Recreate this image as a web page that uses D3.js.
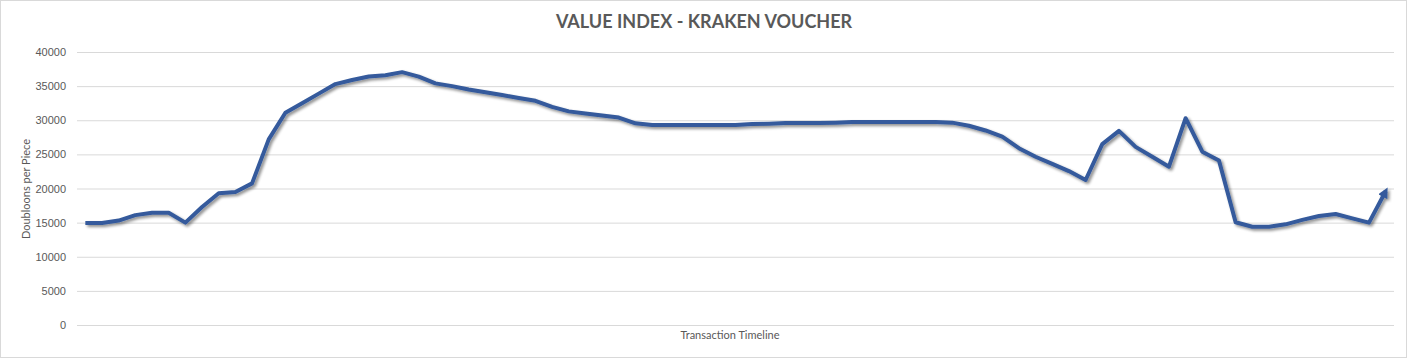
<!DOCTYPE html>
<html><head><meta charset="utf-8">
<script src="https://cdn.jsdelivr.net/npm/d3@7"></script>
<style>
html,body{margin:0;padding:0;background:#fff;}
svg{display:block;font-family:Lato,"Open Sans",sans-serif;}
</style></head>
<body><svg id="c" width="1408" height="359"></svg>
<script>
const title = "VALUE INDEX - KRAKEN VOUCHER";
const yTitle = "Doubloons per Piece";
const xTitle = "Transaction Timeline";
const yTicks = [0,5000,10000,15000,20000,25000,30000,35000,40000];
const values = [
 14950,14950,15300,16100,16450,16450,15000,17300,19300,19500,
 20750,27200,31100,32500,33900,35300,35900,36400,36600,37050,
 36400,35400,35000,34500,34100,33700,33250,32850,31950,31300,
 31000,30700,30400,29550,29300,29300,29300,29300,29300,29300,
 29450,29500,29600,29600,29600,29650,29750,29750,29750,29750,
 29750,29750,29650,29200,28500,27600,25900,24650,23600,22550,
 21250,26500,28450,26100,24650,23200,30300,25400,24100,15050,
 14400,14400,14750,15400,15970,16260,15630,15000,19600
];
const categories = values.map((d,i)=>i+1);

const svg = d3.select("#c");
const W=1408,H=359;
const m={left:77,right:14,top:52,bottom:34};
svg.append("rect").attr("x",0.5).attr("y",0.5).attr("width",W-2).attr("height",H-2)
  .attr("fill","#fff").attr("stroke","#d9d9d9");

const x = d3.scaleBand().domain(categories).range([m.left,W-m.right]);
const y = d3.scaleLinear().domain([0,40000]).range([325,52]);

const defs = svg.append("defs");
const f = defs.append("filter").attr("id","sh").attr("x","-5%").attr("y","-20%").attr("width","110%").attr("height","140%");
f.append("feGaussianBlur").attr("in","SourceAlpha").attr("stdDeviation",1.5).attr("result","b");
f.append("feOffset").attr("in","b").attr("dx",1.5).attr("dy",2).attr("result","o");
f.append("feComponentTransfer").attr("in","o").attr("result","o2").append("feFuncA").attr("type","linear").attr("slope",0.45);
const mg=f.append("feMerge"); mg.append("feMergeNode").attr("in","o2"); mg.append("feMergeNode").attr("in","SourceGraphic");

defs.append("marker").attr("id","arr").attr("viewBox","0 0 10 10").attr("refX",6).attr("refY",5)
 .attr("markerWidth",2.6).attr("markerHeight",2.6).attr("orient","auto")
 .append("path").attr("d","M0,0 L10,5 L0,10 z").attr("fill","#345a9c");

const ga = svg.append("g").attr("class","yaxis").attr("transform",`translate(${m.left},0)`)
 .call(d3.axisLeft(y).tickValues(yTicks).tickSize(-(W-m.right-m.left)).tickPadding(11).tickFormat(d3.format("d")));
ga.select(".domain").remove();
ga.selectAll(".tick line").attr("stroke","#d9d9d9").attr("stroke-width",1);
ga.selectAll(".tick text").attr("fill","#595959").style("font-size","11px");

const line = d3.line().x((d,i)=>x(categories[i])+x.bandwidth()/2).y(d=>y(d));
svg.append("path").datum(values).attr("d",line).attr("fill","none")
 .attr("stroke","#345a9c").attr("stroke-width",4).attr("stroke-linejoin","round")
 .attr("filter","url(#sh)").attr("marker-end","url(#arr)");

svg.append("text").attr("x",704).attr("y",28).attr("text-anchor","middle")
 .attr("fill","#595959").style("font-size","18px").style("font-weight","bold").text(title);
svg.append("text").attr("transform","translate(30,189) rotate(-90)").attr("text-anchor","middle")
 .attr("fill","#595959").style("font-size","11px").text(yTitle);
svg.append("text").attr("x",730).attr("y",339).attr("text-anchor","middle")
 .attr("fill","#595959").style("font-size","11px").text(xTitle);
</script></body></html>
